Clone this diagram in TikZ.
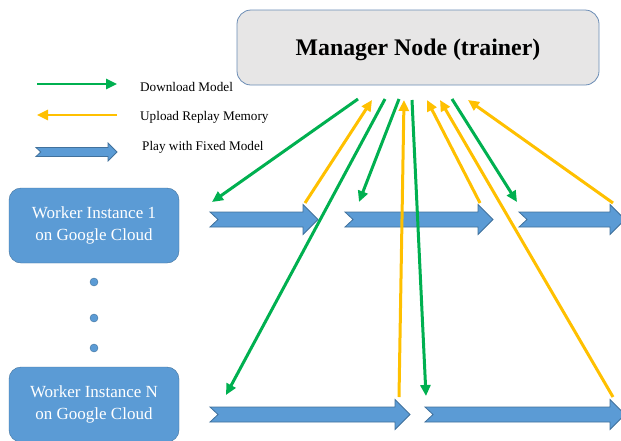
\documentclass[tikz,border=0pt]{standalone}
\usepackage{fontspec}
\setmainfont{Liberation Serif}
\usetikzlibrary{arrows.meta,positioning}
\definecolor{dlgreen}{HTML}{00B050}
\definecolor{upyellow}{HTML}{FFC000}
\definecolor{cloudblue}{HTML}{5B9BD5}
\definecolor{cloudedge}{HTML}{41719C}
\definecolor{mgrgray}{HTML}{E7E6E6}
\definecolor{mgredge}{HTML}{6A8CB5}
\tikzstyle{down} = [dlgreen, line width=3pt, -{Triangle[length=11pt,width=10pt]}]
\tikzstyle{up} = [upyellow, line width=3pt, -{Triangle[length=11pt,width=10pt]}]
\tikzset{
 mgr/.style
  = {rectangle, draw=mgredge, fill=mgrgray, rounded corners=14pt, thick,
     minimum width=362pt, minimum height=75pt, text depth=0pt,
     font=\fontsize{23.8}{28}\selectfont\bfseries},
 worker/.style
  = {rectangle, draw=cloudedge, fill=cloudblue, rounded corners=12pt,
     minimum width=170pt, minimum height=75pt, text=white, align=center,
     font=\fontsize{17}{22}\selectfont},
 play/.style
  = {draw=cloudedge, fill=cloudblue, line width=0.8pt},
 dot/.style
  = {circle, draw=cloudedge, fill=cloudblue, minimum size=8pt, inner sep=0pt},
 legend/.style
  = {anchor=west, inner sep=0pt, font=\fontsize{13.2}{16}\selectfont},
}
% [scale]{from x}{to x}{y}
\newcommand{\playarrow}[4][1]{%
  \draw[play] (#2,#4-7.5*#1) -- (#3-15*#1,#4-7.5*#1) -- (#3-15*#1,#4-15*#1) -- (#3,#4)
    -- (#3-15*#1,#4+15*#1) -- (#3-15*#1,#4+7.5*#1) -- (#2,#4+7.5*#1) -- (#2+8*#1,#4) -- cycle;}

\begin{document}
\begin{tikzpicture}[x=1pt,y=-1pt]
\useasboundingbox (0,0) rectangle (621,440);

% Manager
\node[mgr] (mgr) at (418,47.5) {Manager Node (trainer)};

% Legend
\coordinate (lgdowna) at (37,84);
\coordinate (lgdownb) at (117,84);
\draw[down, line width=2.5pt] (lgdowna) -- (lgdownb);
\node[legend] (lgdown) at (140,87) {Download Model};

\coordinate (lgupa) at (117,115);
\coordinate (lgupb) at (37,115);
\draw[up, line width=2.5pt] (lgupa) -- (lgupb);
\node[legend] (lgup) at (140,117) {Upload Replay Memory};

\playarrow[0.6]{36}{117}{152}
\node[legend] (lgplay) at (142,147) {Play with Fixed Model};

% Workers
\node[worker] (w1) at (94,225.5) {Worker Instance 1\\on Google Cloud};
\node[worker] (wn) at (94,404.5) {Worker Instance N\\on Google Cloud};
\node[dot] (d1) at (94,282) {};
\node[dot] (d2) at (94,318) {};
\node[dot] (d3) at (94,348) {};

% Play with fixed model
\playarrow{210}{318}{219.5}
\playarrow{345}{493}{219.5}
\playarrow{519}{625}{219.5}
\playarrow{210}{410}{414.5}
\playarrow{425}{625}{414.5}

% Ends at the manager
\coordinate (m1) at (358,99);
\coordinate (m2) at (372,100);
\coordinate (m3) at (385,99);
\coordinate (m4) at (399,99);
\coordinate (m5) at (404,100);
\coordinate (m6) at (412,100);
\coordinate (m7) at (427,100);
\coordinate (m8) at (440,100);
\coordinate (m9) at (452,99);
\coordinate (m10) at (468,100);

% Ends at the workers' games
\coordinate (p1) at (212,202);
\coordinate (p2) at (305,203);
\coordinate (p3) at (226,395);
\coordinate (p4) at (359,202);
\coordinate (p5) at (399,397);
\coordinate (p6) at (426,396);
\coordinate (p7) at (480,203);
\coordinate (p8) at (613,397);
\coordinate (p9) at (517,202);
\coordinate (p10) at (613,203);

% Download model
\draw[down] (m1) -- (p1);
\draw[down] (m3) -- (p3);
\draw[down] (m4) -- (p4);
\draw[down] (m6) -- (p6);
\draw[down] (m9) -- (p9);

% Upload replay memory
\draw[up] (p2) -- (m2);
\draw[up] (p5) -- (m5);
\draw[up] (p7) -- (m7);
\draw[up] (p8) -- (m8);
\draw[up] (p10) -- (m10);

\end{tikzpicture}
\end{document}
